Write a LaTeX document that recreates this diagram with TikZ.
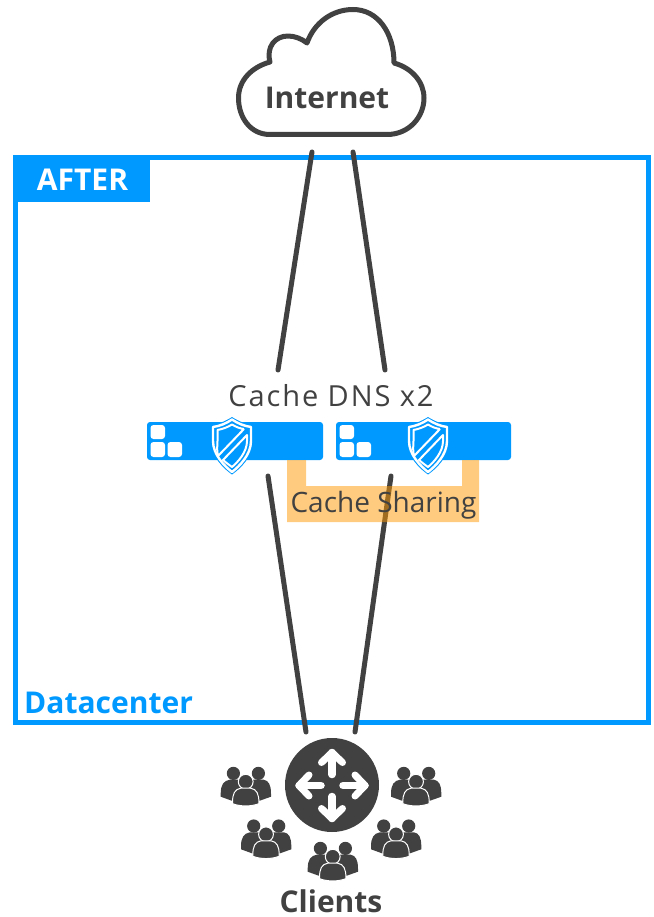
\documentclass[tikz,border=0pt]{standalone}
\usepackage{fontspec}
\setmainfont{Open Sans}
\definecolor{ink}{HTML}{414141}
\definecolor{azure}{HTML}{0099FF}
\definecolor{amber}{HTML}{FF9900}
\tikzset{
  link/.style={draw=ink,line width=5,line cap=round},
  label/.style={text=ink,inner sep=0,anchor=base,font=\fontsize{28}{34}\selectfont},
  boldlabel/.style={inner sep=0,anchor=base,font=\fontsize{30}{36}\selectfont\bfseries},
  server/.style={fill=azure,rounded corners=3},
  led/.style={fill=white,rounded corners=3},
  pics/shield/.style={code={
    \path[fill=azure] (0,0) .. controls (7,4.5) and (14,7) .. (21,8) -- (21,24) .. controls (21,40) and (8,52) .. (0,57.5) .. controls (-8,52) and (-21,40) .. (-21,24) -- (-21,8) .. controls (-14,7) and (-7,4.5) .. (0,0) -- cycle;
    \path[draw=white,line width=2.4,line join=round] (0,2.5) .. controls (6,6.5) and (12,9) .. (19,10) -- (19,24) .. controls (19,38) and (7,49.5) .. (0,55) .. controls (-7,49.5) and (-19,38) .. (-19,24) -- (-19,10) .. controls (-12,9) and (-6,6.5) .. (0,2.5) -- cycle;
    \path[draw=white,line width=2,line join=round] (12,12) -- (-14,39) .. controls (-15.5,33) and (-14.5,28) .. (-14.5,24) -- (-14.5,13) .. controls (-9,12) and (-4,10) .. (0,7.5) .. controls (4,10) and (8,11.5) .. (12,12);
    \path[draw=white,line width=2,line join=round] (15,18) -- (15,24) .. controls (15,35) and (6,45) .. (0,50) .. controls (-3,48) and (-6,45.5) .. (-9,43) -- cycle;
  }},
  pics/arrowglyph/.style={code={
    \draw[white,line width=7.5,line cap=round,line join=round] (0,-11) -- (0,-33);
    \draw[white,line width=7,line cap=round,line join=round] (-10.5,-23) -- (0,-33) -- (10.5,-23);
  }},
  pics/crowd/.style={code={
    \fill[ink] (-12.3,-8.3) circle (6.6) (12.7,-8.3) circle (6.6);
    \fill[ink] (-25,12) .. controls (-25,3) and (-22,-1) .. (-16,-2) -- (-8,-2) -- (10,-2) -- (18,-2) .. controls (23,-1) and (25.3,3) .. (25.3,12) -- (25.3,15) -- (14,19) -- (-14,19) -- (-25,15) -- cycle;
    \draw[white,line width=1,fill=ink] (0,0) circle (7.4);
    \draw[white,line width=1,fill=ink] (-13.2,21) .. controls (-13.2,12) and (-11,7.5) .. (-5,6.5) -- (5,6.5) .. controls (11,7.5) and (13.2,12) .. (13.2,21) -- (13.2,22) .. controls (5,25) and (-5,25) .. (-13.2,22) -- cycle;
  }}
}
\begin{document}
\begin{tikzpicture}[x=1pt,y=-1pt]
\useasboundingbox (0,0) rectangle (653,917);
% frame
\node[draw=azure,line width=5,minimum width=632.5,minimum height=565,inner sep=0,outer sep=0,anchor=north west] (frame) at (15.5,157.5) {};
\fill[azure] (13,155) rectangle (150,202);
\node[boldlabel,text=white] (after) at (82.5,191) {AFTER};
\node[boldlabel,text=azure,anchor=base west] (dc) at (24,713) {Datacenter};
% cloud
\draw[ink,line width=5,line join=round,fill=white] (270,134.5) .. controls (250,134.5) and (238.5,117) .. (238.5,98) .. controls (238.5,80) and (252,67) .. (270,62) .. controls (266,47) and (275,36) .. (288,36) .. controls (295,36) and (302,39) .. (307,43) .. controls (314,23) and (332,9.5) .. (353,9.5) .. controls (378,9.5) and (394,33) .. (394,63) .. controls (412,68) and (424,82) .. (424,98) .. controls (424,117) and (409,134.5) .. (387,134.5) -- cycle;
\node[boldlabel,text=ink] (internet) at (327,109) {Internet};
% connector ends
\coordinate (i1) at (312,152); \coordinate (i2) at (353,152);
\coordinate (s1) at (278,370); \coordinate (s2) at (385,370);
\coordinate (c1) at (268,476); \coordinate (c2) at (391,476);
\coordinate (r1) at (306,732); \coordinate (r2) at (355,732);
\draw[link] (i1) -- (s1); \draw[link] (i2) -- (s2);
\draw[link] (c1) -- (r1); \draw[link] (c2) -- (r2);
% servers
\path[server] (147,422) rectangle (323,460);
\path[server] (336,422) rectangle (511,460);
\foreach \dx in {0,189}{
  \path[led] (150.5+\dx,425) rectangle (165+\dx,439);
  \path[led] (150.5+\dx,442) rectangle (165+\dx,457);
  \path[led] (167.5+\dx,442) rectangle (182+\dx,457);
}
\pic at (232,417) {shield};
\pic at (428,417) {shield};
% sharing
\fill[amber,opacity=.5] (287,460) -- (306,460) -- (306,486) -- (462,486) -- (462,460) -- (479,460) -- (479,522) -- (287,522) -- cycle;
\node[label,font=\fontsize{29}{34}\selectfont\addfontfeature{LetterSpace=6.5}] (dns) at (331,406.5) {Cache DNS x2};
\node[label] (share) at (383.5,512.5) {Cache Sharing};
% router
\node[fill=ink,circle,minimum size=94,inner sep=0] (router) at (332,785) {};
\foreach \a in {0,90,180,270}{ \pic[rotate=\a] at (332,785.5) {arrowglyph}; }
% crowds
\pic at (245.7,781.7) {crowd};
\pic at (416,781.7) {crowd};
\pic at (266,834.3) {crowd};
\pic at (396,834.3) {crowd};
\pic at (332.7,856.7) {crowd};
\node[boldlabel,text=ink] (clients) at (331,912.5) {Clients};
\end{tikzpicture}
\end{document}
